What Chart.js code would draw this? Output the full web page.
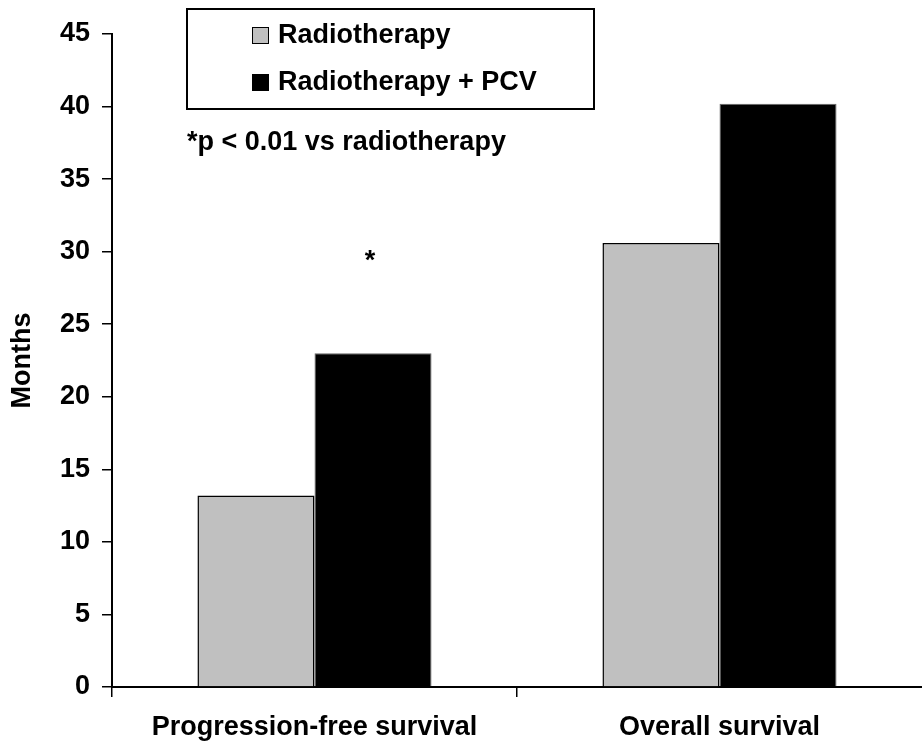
<!DOCTYPE html>
<html>
<head>
<meta charset="utf-8">
<script src="https://cdn.jsdelivr.net/npm/chart.js@4.4.1/dist/chart.umd.min.js"></script>
<style>
  body { margin: 0; background: #fff; }
  #wrap { width: 922px; height: 747px; position: relative; }
</style>
</head>
<body>
<div id="wrap"><canvas id="survChart"></canvas></div>
<script>
// Categories on the x axis
var categories = ['Progression-free survival', 'Overall survival'];
// Months
var radiotherapy = [13.2, 30.6];
var radiotherapyPcv = [23.0, 40.2];
var seriesLabels = ['Radiotherapy', 'Radiotherapy + PCV'];
var noteText = '*p < 0.01 vs radiotherapy';

var FONT = '"Liberation Sans", Arial, sans-serif';
var FSIZE = 27;

// Legend box, footnote and the asterisk over the PCV bar
var extrasPlugin = {
  id: 'extras',
  afterDraw: function(chart) {
    var ctx = chart.ctx;
    ctx.save();
    // legend frame
    ctx.strokeStyle = '#000';
    ctx.lineWidth = 2;
    ctx.strokeRect(187, 9, 407, 100);
    ctx.font = 'bold ' + FSIZE + 'px ' + FONT;
    ctx.textBaseline = 'middle';
    ctx.textAlign = 'left';
    var rows = [35, 82];
    for (var i = 0; i < chart.data.datasets.length; i++) {
      var ds = chart.data.datasets[i];
      ctx.fillStyle = ds.backgroundColor;
      ctx.fillRect(252, rows[i] - 8, 16, 16);
      ctx.strokeStyle = '#000';
      ctx.lineWidth = 1;
      ctx.strokeRect(252.5, rows[i] - 7.5, 16, 16);
      ctx.fillStyle = '#000';
      ctx.fillText(ds.label, 278, rows[i] + 1);
    }
    // footnote
    ctx.fillText(noteText, 187, 143);
    // significance mark over the PFS PCV bar
    var bar = chart.getDatasetMeta(1).data[0];
    ctx.textAlign = 'center';
    ctx.fillText('*', bar.x - 3, bar.y - 92);
    ctx.restore();
  }
};

var survChart = new Chart(document.getElementById('survChart'), {
  type: 'bar',
  data: {
    labels: categories,
    datasets: [
      {
        label: seriesLabels[0],
        data: radiotherapy,
        backgroundColor: '#c0c0c0',
        borderColor: '#000',
        borderWidth: 1.5,
        borderSkipped: 'bottom'
      },
      {
        label: seriesLabels[1],
        data: radiotherapyPcv,
        backgroundColor: '#000',
        borderColor: '#666',
        borderWidth: 1,
        borderSkipped: 'bottom'
      }
    ]
  },
  options: {
    responsive: true,
    maintainAspectRatio: false,
    animation: false,
    layout: { padding: { top: 34, right: 0, bottom: 0, left: 0 } },
    datasets: {
      bar: { categoryPercentage: 0.578, barPercentage: 1.0 }
    },
    plugins: {
      legend: { display: false },
      tooltip: { enabled: false }
    },
    scales: {
      x: {
        grid: {
          offset: true,
          drawOnChartArea: false,
          drawTicks: true,
          tickLength: 10,
          // the closing boundary tick (no tick context) is hidden
          color: function(c) { return c.index === undefined ? 'rgba(0,0,0,0)' : '#000'; },
          lineWidth: 1.5
        },
        border: { display: true, color: '#000', width: 2 },
        ticks: {
          color: '#000',
          padding: 14,
          maxRotation: 0,
          font: { family: FONT, size: FSIZE, weight: 'bold' }
        },
        afterFit: function(scale) { scale.height = 60; }
      },
      y: {
        min: 0,
        max: 45,
        grid: {
          drawOnChartArea: false,
          drawTicks: true,
          tickLength: 10,
          color: '#000',
          lineWidth: 1.5
        },
        border: { display: true, color: '#000', width: 2 },
        ticks: {
          stepSize: 5,
          color: '#000',
          padding: 12,
          font: { family: FONT, size: FSIZE, weight: 'bold' }
        },
        title: {
          display: true,
          text: 'Months',
          color: '#000',
          padding: { top: 6, bottom: 0 },
          font: { family: FONT, size: FSIZE, weight: 'bold' }
        },
        afterFit: function(scale) { scale.width = 112; }
      }
    }
  },
  plugins: [extrasPlugin]
});
</script>
</body>
</html>
